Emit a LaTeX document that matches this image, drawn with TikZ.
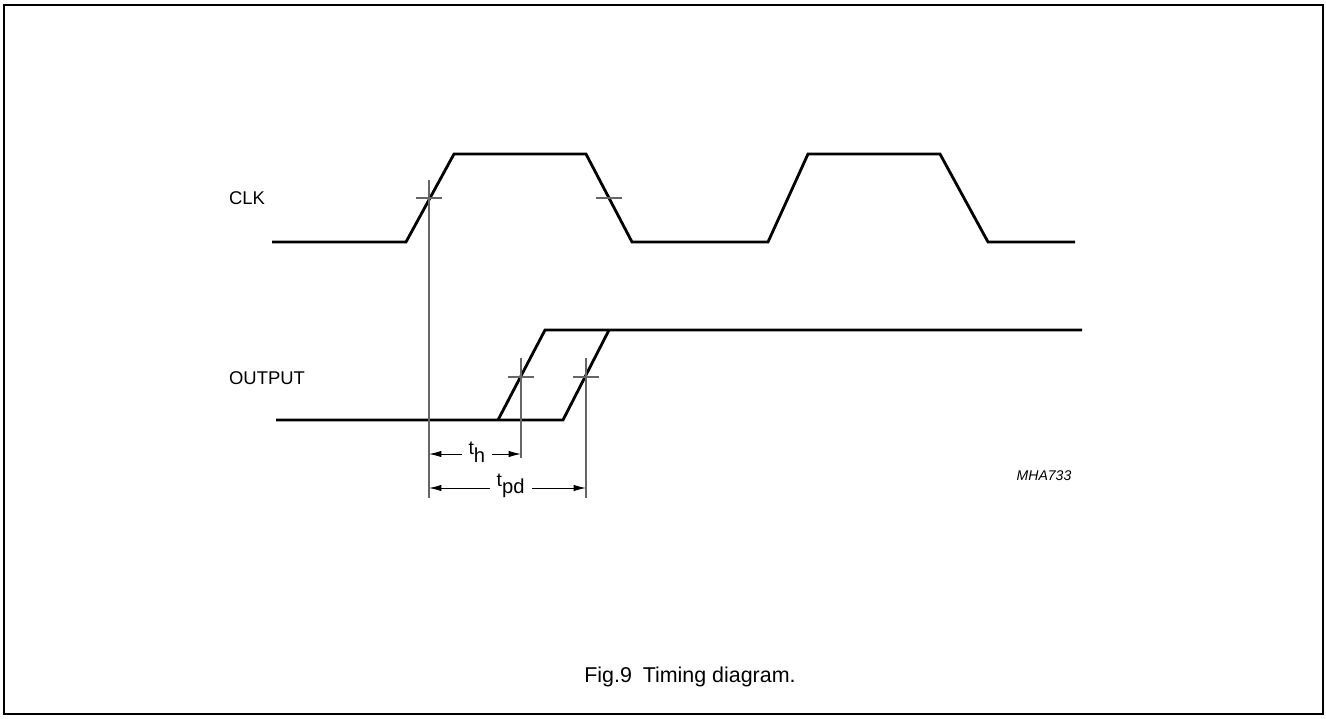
\documentclass[tikz,border=0pt]{standalone}
\usepackage{fontspec}
\setmainfont{Liberation Sans}
\usetikzlibrary{arrows.meta}

\newcommand{\tsub}[1]{{\fontsize{11}{13}\selectfont t}\raisebox{-4pt}{\fontsize{11.5}{13}\selectfont #1}}

\begin{document}
\begin{tikzpicture}[x=0.02cm, y=-0.02cm,
    every node/.style={inner sep=1pt, text=black, font=\fontsize{10.5}{12}\selectfont},
    wave/.style={line width=1.6pt, line join=miter},
    guide/.style={black!60, line width=0.6pt},
    dim/.style={black, line width=0.5pt, {Latex[length=7pt,width=3.6pt]}-{Latex[length=7pt,width=3.6pt]}},
    dimlabel/.style={fill=white, inner xsep=4pt, inner ysep=1pt, yshift=1pt}]
                \useasboundingbox (0,0) rectangle (1326,718);
                \draw[line width=1.1pt] (4,5) rectangle (1323,714);
                % signal names
                \node[anchor=west] (clk) at (227, 198) {CLK};
                \node[anchor=west] (out) at (227, 378) {OUTPUT};
                % clock waveform
                \draw[wave] (272,242) -- (406,242) -- (454,154) -- (586,154) -- (632,242)
                    -- (768,242) -- (808,154) -- (940,154) -- (988,242) -- (1075,242);
                % output waveforms
                \draw[wave] (276,420) -- (563,420) -- (609,330);
                \draw[wave] (498,420) -- (545,330) -- (1082,330);
                % reference marks
                \coordinate (clkrise) at (429,198);
                \coordinate (clkfall) at (609,198);
                \coordinate (outmin) at (521,377);
                \coordinate (outmax) at (586,377);
                \draw[guide] (clkrise) ++(-13,0) -- ++(26,0);
                \draw[guide] (clkfall) ++(-13,0) -- ++(26,0);
                \draw[guide] (outmin) ++(-13,0) -- ++(26,0);
                \draw[guide] (outmax) ++(-13,0) -- ++(26,0);
                \draw[guide] (clkrise) ++(0,-18) -- (429,498);
                \draw[guide] (outmin) ++(0,-19) -- (521,458);
                \draw[guide] (outmax) ++(0,-19) -- (586,498);
                % timing dimensions
                \coordinate (thl) at (429,454);
                \coordinate (thr) at (521,454);
                \coordinate (tpdl) at (429,488);
                \coordinate (tpdr) at (586,488);
                \draw[dim] (thl) -- (thr) node[pos=0.52, dimlabel] (th) {\tsub{h}};
                \draw[dim] (tpdl) -- (tpdr) node[pos=0.52, dimlabel] (tpd) {\tsub{pd}};
                % figure code and caption
                \node[font=\itshape\fontsize{8}{10}\selectfont] (code) at (1044, 476) {MHA733};
                \node[font=\fontsize{12.2}{14}\selectfont] (caption) at (690, 677) {Fig.9\hspace{0.5em}Timing diagram.};
            \end{tikzpicture}
\end{document}
